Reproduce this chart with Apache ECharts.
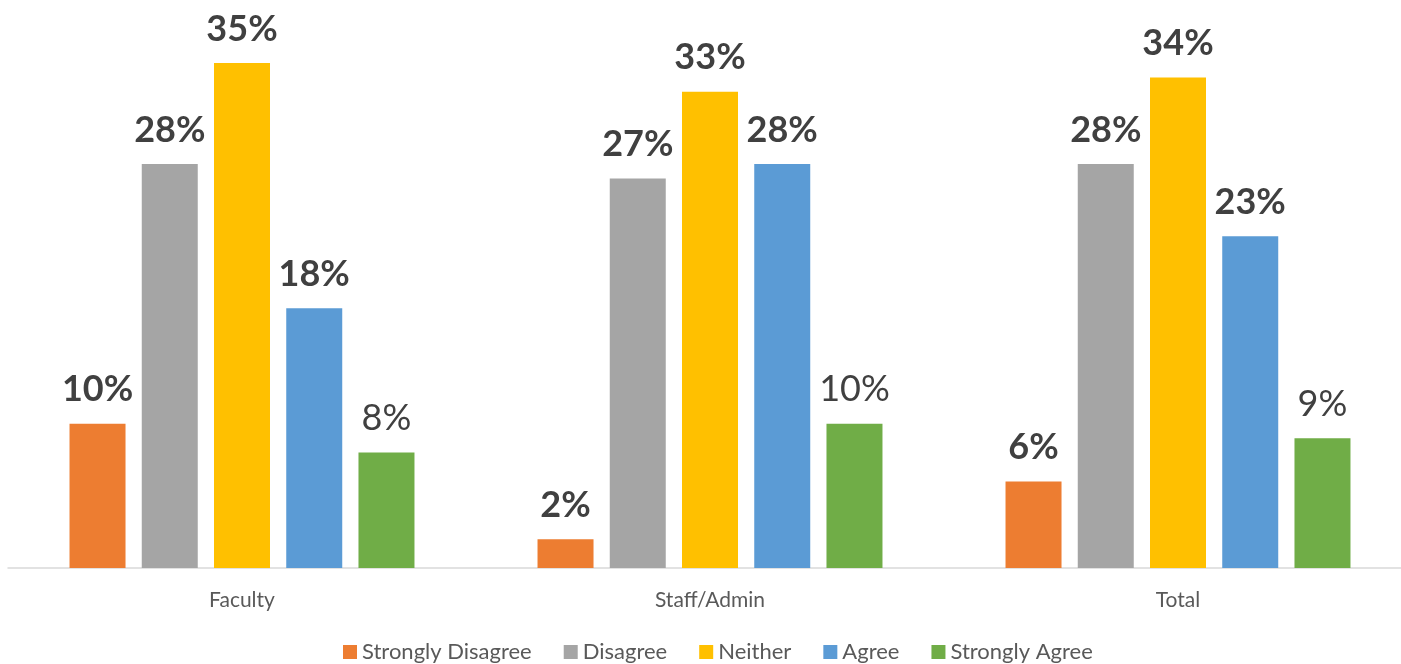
<!DOCTYPE html>
<html>
<head>
<meta charset="utf-8">
<script src="https://cdn.jsdelivr.net/npm/echarts@6/dist/echarts.min.js"></script>
<style>
  html, body { margin: 0; padding: 0; background: #ffffff; }
  #chart { width: 1401px; height: 664px; }
</style>
</head>
<body>
<div id="chart"></div>
<script>
// Survey response shares (%) by group
const categories = ['Faculty', 'Staff/Admin', 'Total'];
const seriesNames = ['Strongly Disagree', 'Disagree', 'Neither', 'Agree', 'Strongly Agree'];
const stronglyDisagree = [10, 2, 6];
const disagree = [28, 27, 28];
const neither = [35, 33, 34];
const agree = [18, 28, 23];
const stronglyAgree = [8, 10, 9];

const values = [stronglyDisagree, disagree, neither, agree, stronglyAgree];
const colors = ['#ED7D31', '#A5A5A5', '#FFC000', '#5B9BD5', '#70AD47'];
const boldLabels = [true, true, true, true, false];
const font = 'Lato, "Open Sans", sans-serif';

const chart = echarts.init(document.getElementById('chart'));

chart.setOption({
  animation: false,
  grid: { left: 8, width: 1404, top: 63, bottom: 96, outerBoundsMode: 'none' },
  legend: {
    bottom: -4,
    left: 338,
    itemWidth: 14,
    itemHeight: 14,
    itemGap: 32,
    icon: 'rect',
    textStyle: { fontFamily: font, fontSize: 22, color: '#595959' },
    data: seriesNames
  },
  xAxis: {
    type: 'category',
    data: categories,
    axisLine: { lineStyle: { color: '#D9D9D9', width: 1.5 } },
    axisTick: { show: false },
    axisLabel: { fontFamily: font, fontSize: 21, color: '#595959', margin: 22 }
  },
  yAxis: {
    type: 'value',
    min: 0,
    max: 35,
    show: false,
    splitLine: { show: false }
  },
  series: seriesNames.map((name, i) => ({
    name: name,
    type: 'bar',
    data: values[i],
    barWidth: 56,
    barGap: '29%',
    itemStyle: { color: colors[i] },
    label: {
      show: true,
      position: 'top',
      distance: 16,
      formatter: '{c}%',
      fontFamily: font,
      fontSize: 36,
      fontWeight: boldLabels[i] ? 'bold' : 'normal',
      color: '#404040'
    }
  }))
});
</script>
</body>
</html>
